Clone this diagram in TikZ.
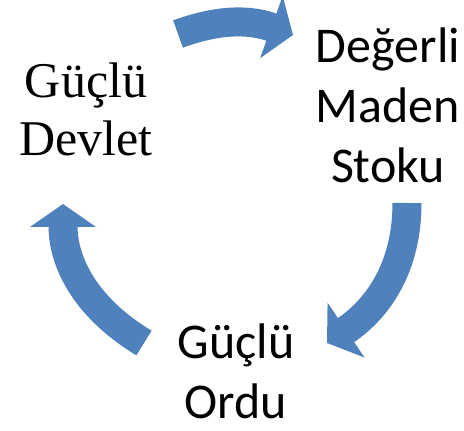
\documentclass[tikz,border=0pt]{standalone}
\usepackage{fontspec}
\setmainfont{Liberation Serif}
\newfontfamily\labelsans{Carlito}
\usetikzlibrary{arrows.meta}
\definecolor{cycleblue}{RGB}{79,129,189}

\begin{document}
\begin{tikzpicture}[x=1pt, y=1pt,
  cyclearrow/.style={draw=cycleblue, line width=29pt, -{Triangle[width=65pt, length=23pt]}},
  serifname/.style={align=center, inner sep=0pt, font=\fontsize{50}{58}\selectfont},
  sansname/.style={align=center, inner sep=0pt, font=\labelsans\fontsize{50}{60}\selectfont}]
\useasboundingbox (0,0) rectangle (464,431);
% the three stages
\node[serifname] (devlet) at (86,322) {Güçlü\\Devlet};
\node[sansname] (maden) at (388,326) {Değerli\\Maden\\Stoku};
\node[sansname] (ordu) at (236,60) {Güçlü\\Ordu};
% arrow ends
\coordinate (a1) at (178,397);
\coordinate (a2) at (293,396);
\coordinate (b1) at (407,228);
\coordinate (b2) at (327,88);
\coordinate (c1) at (144,88);
\coordinate (c2) at (63,227);
% the cycle
\draw[cyclearrow] (a1) to[out=20, in=160] (a2);
\draw[cyclearrow] (b1) to[out=-90, in=34] (b2);
\draw[cyclearrow] (c1) to[out=149, in=-90] (c2);
\end{tikzpicture}
\end{document}
